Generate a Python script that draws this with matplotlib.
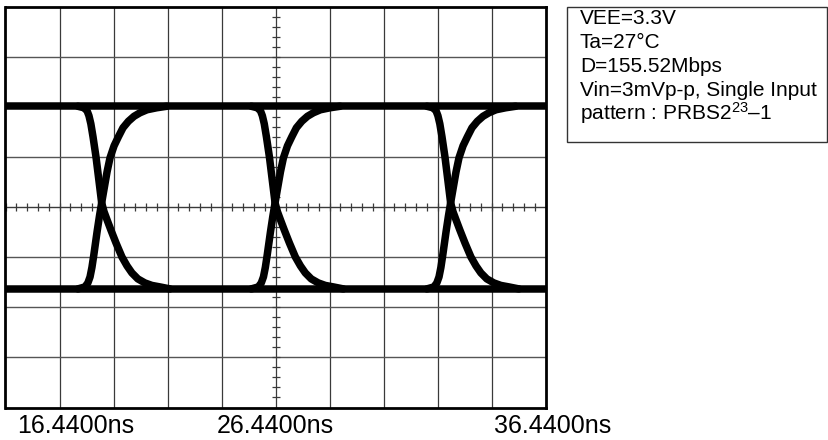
import matplotlib
matplotlib.use('Agg')
import matplotlib.pyplot as plt
import matplotlib.transforms as mtransforms
from matplotlib.patches import Rectangle
import numpy as np

plt.rcParams['font.family'] = ['Liberation Sans', 'DejaVu Sans']
plt.rcParams['mathtext.fontset'] = 'custom'
plt.rcParams['mathtext.rm'] = 'Liberation Sans'
plt.rcParams['mathtext.it'] = 'Liberation Sans:italic'
plt.rcParams['mathtext.bf'] = 'Liberation Sans:bold'

# ---- data (time in ns, amplitude in screen divisions) ----
t_start = 16.44
t_end = 36.44
time_labels = ['16.4400ns', '26.4400ns', '36.4400ns']
label_pos = [19.03, 26.44, 36.69]

high_level = 2.02
low_level = -1.63

crossing_times = [20.00, 26.42, 32.92]

fall_dt = [-0.88, -0.66, -0.54, -0.47, -0.40, -0.32, -0.21, -0.10, 0.00, 0.09, 0.20,
           0.34, 0.53, 0.75, 0.94, 1.12, 1.34, 1.60, 1.86, 2.16, 2.53]
fall_v = [2.02, 1.99, 1.93, 1.83, 1.67, 1.41, 1.01, 0.53, 0.09, -0.09, -0.25,
          -0.45, -0.71, -0.99, -1.17, -1.31, -1.43, -1.51, -1.56, -1.59, -1.63]

rise_dt = [-0.88, -0.62, -0.51, -0.43, -0.36, -0.29, -0.17, -0.08, 0.00, 0.09, 0.20,
           0.31, 0.46, 0.62, 0.79, 0.99, 1.20, 1.42, 1.68, 2.04, 2.41]
rise_v = [-1.63, -1.59, -1.51, -1.39, -1.20, -0.95, -0.49, -0.17, 0.09, 0.37, 0.71,
          0.99, 1.23, 1.41, 1.59, 1.72, 1.82, 1.89, 1.95, 1.99, 2.02]

info_lines = ['VEE=3.3V', 'Ta=27°C', 'D=155.52Mbps', 'Vin=3mVp-p, Single Input',
              'pattern : PRBS2$^{\\mathregular{23}}$\u20131']

# ---- figure ----
W, H = 829, 440
fig = plt.figure(figsize=(W / 100, H / 100), dpi=100)
ax = fig.add_axes([5.5 / W, 1 - 407.5 / H, 540.2 / W, 400.3 / H])
ax.set_xlim(t_start, t_end)
ax.set_ylim(-4, 4)
ax.set_xticks([])
ax.set_yticks([])
for s in ax.spines.values():
    s.set_linewidth(2.0)
    s.set_color('black')

grid_c = '#3a3a3a'
for k in range(1, 10):
    ax.axvline(t_start + 2 * k, color=grid_c, lw=0.9, zorder=1)
for k in range(-3, 4):
    ax.axhline(k, color='#555555' if k != 0 else grid_c, lw=1.0, zorder=1)

# minor ticks on center axes
t_center = (t_start + t_end) / 2
tx = np.arange(t_start, t_end + 1e-6, 0.4)
ax.plot(tx, np.zeros_like(tx), ls='none', marker='|', ms=6, mew=0.9, color=grid_c, zorder=1)
ty = np.arange(-4, 4 + 1e-6, 0.2)
ax.plot(np.full_like(ty, t_center), ty, ls='none', marker='_', ms=6, mew=0.9, color=grid_c, zorder=1)

# ---- traces ----
trace_c = 'black'
ax.plot([t_start, t_end], [high_level, high_level], color=trace_c, lw=5.4,
        solid_capstyle='butt', zorder=3)
ax.plot([t_start, t_end], [low_level, low_level], color=trace_c, lw=5.4,
        solid_capstyle='butt', zorder=3)
for tc in crossing_times:
    ax.plot([tc + d for d in fall_dt], fall_v, color=trace_c, lw=5.4,
            solid_joinstyle='round', solid_capstyle='round', zorder=3)
    ax.plot([tc + d for d in rise_dt], rise_v, color=trace_c, lw=5.4,
            solid_joinstyle='round', solid_capstyle='round', zorder=3)

# ---- bottom time labels ----
trans = mtransforms.blended_transform_factory(ax.transData, fig.transFigure)
for lab, pos in zip(time_labels, label_pos):
    fig.text(pos, 1 - 433 / H, lab, transform=trans, ha='center', va='baseline',
             fontsize=18, color='black', clip_on=False)

# ---- info box ----
box = Rectangle((567 / W, 1 - 142 / H), (827.5 - 567) / W, (142 - 7) / H,
                transform=fig.transFigure, fill=False, edgecolor='#333333', lw=1.0)
fig.patches.append(box)
for i, line in enumerate(info_lines):
    fig.text(580 / W, 1 - (24 + 24 * i) / H, line, ha='left', va='baseline',
             fontsize=15, color='black')

fig.savefig('out.png', dpi=100)
